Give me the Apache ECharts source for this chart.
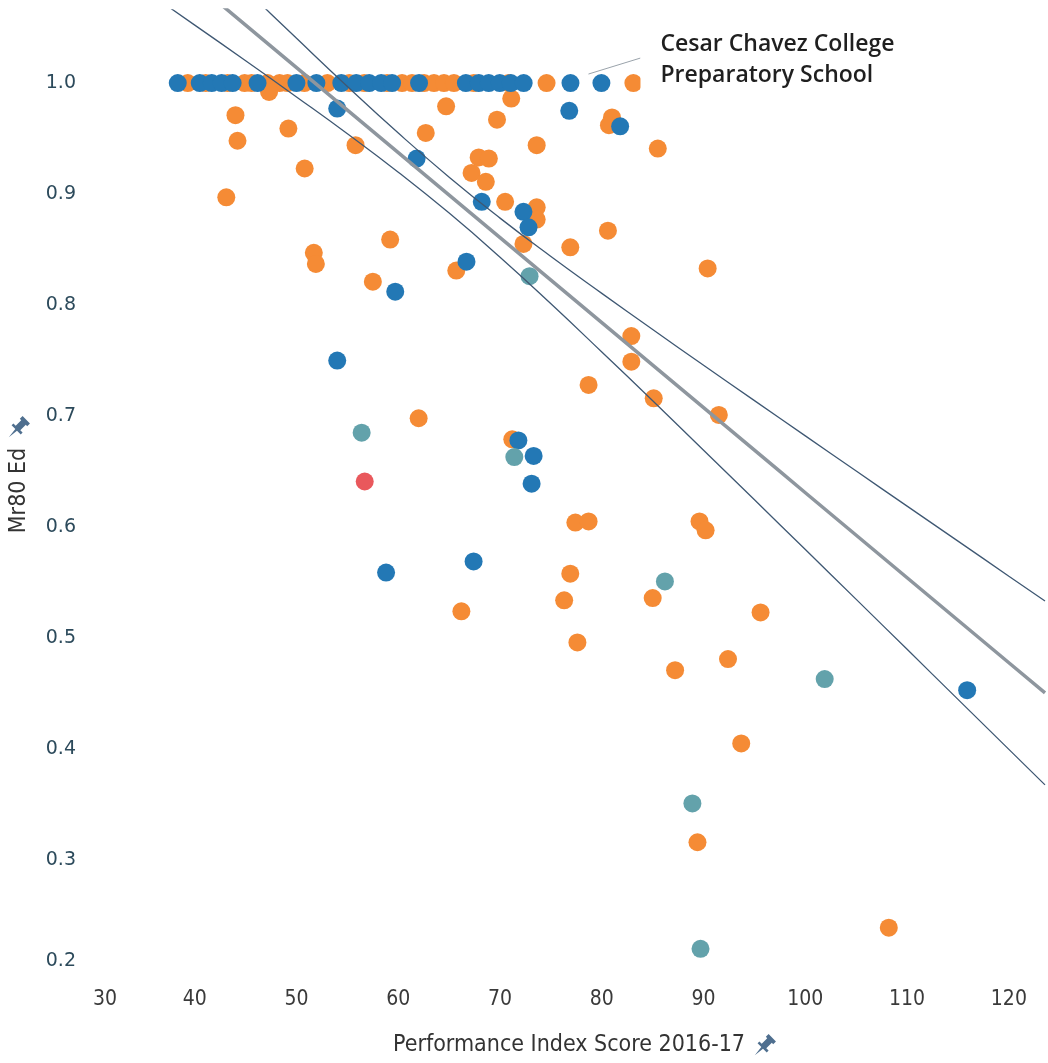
<!DOCTYPE html>
<html>
<head>
<meta charset="utf-8">
<script src="https://cdn.jsdelivr.net/npm/echarts@6/dist/echarts.min.js"></script>
<style>
  html, body { margin: 0; padding: 0; background: #ffffff; }
  #chart { width: 1048px; height: 1063px; }
</style>
</head>
<body>
<div id="chart"></div>
<script>
// Schools: [Performance Index Score 2016-17, Mr80 Ed]
const orangeSchools = [
  [39.31, 1.0], [41.08, 1.0], [43.23, 1.0], [44.90, 1.0], [45.58, 1.0], [47.15, 1.0],
  [48.33, 1.0], [49.11, 1.0], [50.77, 1.0], [53.03, 1.0], [55.18, 1.0], [56.65, 1.0],
  [58.90, 1.0], [60.37, 1.0], [61.35, 1.0], [62.53, 1.0], [63.51, 1.0], [64.49, 1.0],
  [65.47, 1.0], [67.42, 1.0], [70.85, 1.0], [74.57, 1.0], [83.10, 1.0],
  [44.0, 0.971], [44.2, 0.948], [43.1, 0.897], [47.3, 0.992], [49.2, 0.959],
  [50.8, 0.923], [51.7, 0.847], [51.9, 0.837], [55.8, 0.944], [57.5, 0.821],
  [59.2, 0.859], [62.7, 0.955], [64.7, 0.979], [65.7, 0.831], [62.0, 0.698],
  [67.2, 0.919], [67.9, 0.933], [68.9, 0.932], [68.6, 0.911], [69.7, 0.967],
  [73.6, 0.944], [71.1, 0.986], [70.5, 0.893], [73.6, 0.888], [73.6, 0.877],
  [72.3, 0.855], [76.9, 0.852], [80.6, 0.867], [85.5, 0.941], [81.0, 0.969],
  [80.7, 0.962], [90.4, 0.833], [82.9, 0.772], [82.9, 0.749], [78.7, 0.728],
  [85.1, 0.716], [91.5, 0.701], [71.2, 0.679], [89.6, 0.605], [90.2, 0.597],
  [77.4, 0.604], [78.7, 0.605], [76.9, 0.558], [76.3, 0.534], [77.6, 0.496],
  [66.2, 0.524], [85.0, 0.536], [95.6, 0.523], [87.2, 0.471], [92.4, 0.481],
  [93.7, 0.405], [89.4, 0.316], [108.2, 0.239]
];

const blueSchools = [
  [38.33, 1.0], [40.49, 1.0], [41.67, 1.0], [42.64, 1.0], [43.72, 1.0], [46.17, 1.0],
  [49.99, 1.0], [51.95, 1.0], [54.40, 1.0], [55.87, 1.0], [57.14, 1.0], [58.32, 1.0],
  [59.39, 1.0], [62.04, 1.0], [66.64, 1.0], [67.91, 1.0], [68.89, 1.0], [69.97, 1.0],
  [71.05, 1.0], [72.32, 1.0], [79.96, 1.0],
  [54.0, 0.977], [61.8, 0.932], [68.2, 0.893], [66.7, 0.839], [59.7, 0.812],
  [54.0, 0.750], [72.3, 0.884], [72.8, 0.870], [76.8, 0.975], [81.8, 0.961],
  [71.8, 0.678], [73.3, 0.664], [73.1, 0.639], [58.8, 0.559], [67.4, 0.569],
  [115.9, 0.453]
];

const tealSchools = [
  [56.4, 0.685], [72.9, 0.826], [71.4, 0.663], [86.2, 0.551], [101.9, 0.463],
  [88.9, 0.351], [89.7, 0.220]
];

const redSchools = [
  [56.7, 0.641]
];

// Annotated school
const annotatedSchool = { name: 'Cesar Chavez College\nPreparatory School', value: [76.92, 1.0] };

// Trend line with its confidence band
const trendX     = [36, 40, 45, 50, 55, 60, 65, 70, 75, 80, 85, 90, 95, 100, 105, 110, 115, 120, 123.55];
const trendMid   = [1.1212, 1.0905, 1.0522, 1.0139, 0.9756, 0.9373, 0.8990, 0.8607, 0.8224, 0.7841,
                    0.7458, 0.7075, 0.6692, 0.6309, 0.5926, 0.5543, 0.5160, 0.4777, 0.4505];
const trendUpper = [1.1646, 1.1288, 1.0843, 1.0403, 0.9969, 0.9549, 0.9152, 0.8783, 0.8437, 0.8105,
                    0.7779, 0.7458, 0.7139, 0.6821, 0.6504, 0.6188, 0.5873, 0.5557, 0.5334];
const trendLower = [1.0778, 1.0522, 1.0201, 0.9875, 0.9543, 0.9197, 0.8828, 0.8431, 0.8011, 0.7577,
                    0.7137, 0.6692, 0.6245, 0.5797, 0.5348, 0.4898, 0.4447, 0.3997, 0.3677];

// Axis ticks
const xTicks = [30, 40, 50, 60, 70, 80, 90, 100, 110, 120];
const yTicks = [0.2, 0.3, 0.4, 0.5, 0.6, 0.7, 0.8, 0.9, 1.0];

const NARROW = "'DejaVu Sans Condensed', 'Roboto Condensed', 'Liberation Sans Narrow', 'Arial Narrow', sans-serif";

const chart = echarts.init(document.getElementById('chart'), null, { renderer: 'canvas' });

const zip = (xs, ys) => xs.map((x, i) => [x, ys[i]]);
const isTick = (list, v) => list.some(t => Math.abs(t - v) < 1e-6);

function scatter(name, data, color, z) {
  return {
    name, type: 'scatter', data, z,
    symbol: 'circle', symbolSize: 18,
    itemStyle: { color, opacity: 1 },
    silent: true
  };
}

function trend(name, data, width, color, z) {
  return {
    name, type: 'line', data, z,
    smooth: true, showSymbol: false, clip: true, silent: true,
    lineStyle: { width, color }
  };
}

// Pushpin outline, upright, centred on (0, 9)
const PIN_POINTS = [
  [-4, 0], [4, 0], [4, 3], [2.5, 3], [2.5, 9], [5, 9], [5, 11], [0.9, 11], [0, 19],
  [-0.9, 11], [-5, 11], [-5, 9], [-2.5, 9], [-2.5, 3], [-4, 3]
].map(([x, y]) => [x, y - 9]);

function pin(cx, cy) {
  return {
    type: 'polygon', z: 20, silent: true,
    x: cx, y: cy, rotation: -Math.PI / 4, scaleX: 1.3, scaleY: 1.3,
    shape: { points: PIN_POINTS },
    style: { fill: '#4f6f8f' }
  };
}

chart.setOption({
  backgroundColor: '#ffffff',
  animation: false,
  grid: { left: 93, right: 0, top: 10, bottom: 92, containLabel: false },
  xAxis: {
    type: 'value', min: 30, max: 123.55, interval: 10,
    axisLine: { show: false }, axisTick: { show: false }, splitLine: { show: false },
    axisLabel: {
      margin: 18, color: '#3a3a3a', fontFamily: NARROW, fontSize: 21,
      alignMinLabel: 'left',
      formatter: v => isTick(xTicks, v) ? String(v) : ''
    },
    name: 'Performance Index Score 2016-17', nameLocation: 'middle', nameGap: 63,
    nameTextStyle: { color: '#333333', fontFamily: NARROW, fontSize: 23 }
  },
  yAxis: {
    type: 'value', min: 0.2, max: 1.0658, interval: 0.1,
    axisLine: { show: false }, axisTick: { show: false }, splitLine: { show: false },
    axisLabel: {
      margin: 17, color: '#2c4a5b', fontFamily: 'DejaVu Sans', fontSize: 19,
      verticalAlignMinLabel: 'bottom',
      formatter: v => isTick(yTicks, Math.round(v * 10) / 10) && Math.abs(v * 10 - Math.round(v * 10)) < 1e-6
        ? v.toFixed(1) : ''
    },
    name: 'Mr80 Ed', nameLocation: 'middle', nameGap: 62, nameRotate: 90,
    nameTextStyle: { color: '#333333', fontFamily: NARROW, fontSize: 23 }
  },
  series: [
    scatter('Orange', orangeSchools, '#f58b35', 2),
    scatter('Blue', blueSchools.concat([annotatedSchool.value]), '#2378b5', 3),
    scatter('Teal', tealSchools, '#63a2ab', 4),
    scatter('Red', redSchools, '#e9585c', 4),
    trend('Trend', zip(trendX, trendMid), 3.5, '#8e969e', 6),
    trend('Upper band', zip(trendX, trendUpper), 1.3, '#3f5873', 6),
    trend('Lower band', zip(trendX, trendLower), 1.3, '#3f5873', 6)
  ]
});

// Annotation box and leader line anchored to the annotated school's position
const p = chart.convertToPixel({ gridIndex: 0 }, annotatedSchool.value);
chart.setOption({
  graphic: [
    {
      type: 'line', z: 20, silent: true,
      shape: { x1: p[0] + 18, y1: p[1] - 9, x2: p[0] + 70, y2: p[1] - 25 },
      style: { stroke: '#9aa3ab', lineWidth: 1 }
    },
    {
      type: 'rect', z: 20, silent: true,
      shape: { x: p[0] + 70, y: p[1] - 60, width: 265, height: 72 },
      style: { fill: '#ffffff' }
    },
    {
      type: 'text', z: 21, silent: true,
      x: p[0] + 90, y: p[1] - 23.5,
      style: {
        text: annotatedSchool.name, fill: '#1f1f1f',
        font: '600 23px "Open Sans"', lineHeight: 31,
        verticalAlign: 'middle', align: 'left'
      }
    },
    // pin icons beside the axis titles
    pin(764, 1046),
    pin(18, 428)
  ]
});
</script>
</body>
</html>
